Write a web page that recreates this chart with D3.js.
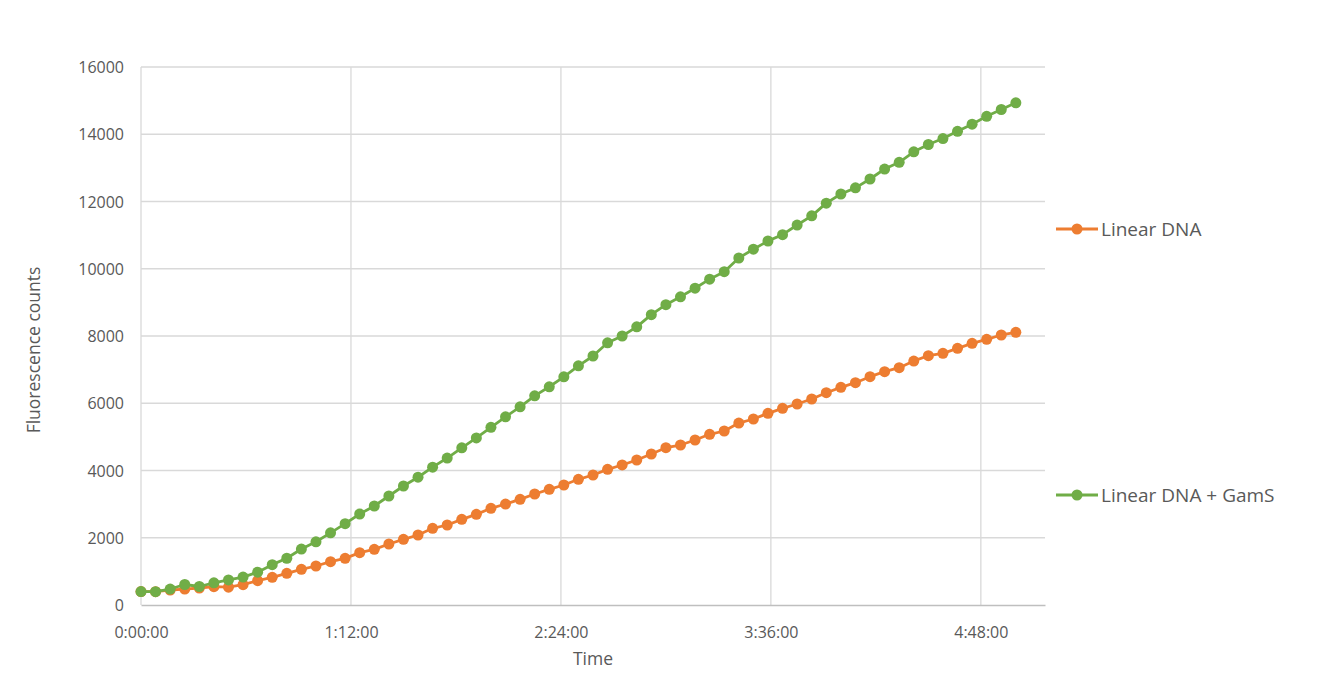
<!DOCTYPE html>
<html>
<head>
<meta charset="utf-8">
<script src="https://cdn.jsdelivr.net/npm/d3@7"></script>
<style>
  html, body { margin: 0; padding: 0; background: #fff; }
  svg text { font-family: "Open Sans", "Noto Sans", sans-serif; fill: #595959; }
</style>
</head>
<body>
<svg id="chart" width="1334" height="675"></svg>
<script>
// time in minutes since start
const timeMinutes = [0,5,10,15,20,25,30,35,40,45,50,55,60,65,70,75,80,85,90,95,100,105,110,115,120,125,130,135,140,145,150,155,160,165,170,175,180,185,190,195,200,205,210,215,220,225,230,235,240,245,250,255,260,265,270,275,280,285,290,295,300];

const linearDNA = [400,395,446,475,505,545,530,604,724,823,942,1061,1160,1289,1388,1556,1656,1814,1953,2082,2280,2379,2548,2696,2875,3003,3142,3301,3440,3569,3738,3866,4035,4164,4312,4491,4679,4758,4907,5076,5175,5410,5532,5700,5849,5978,6126,6314,6473,6612,6790,6939,7058,7256,7415,7484,7633,7782,7901,8030,8110];

const linearDNAGamS = [400,395,475,610,550,660,745,830,975,1200,1390,1665,1880,2145,2420,2706,2944,3242,3539,3800,4100,4370,4675,4970,5285,5595,5895,6220,6490,6785,7112,7405,7797,8000,8272,8635,8932,9165,9422,9690,9913,10320,10582,10825,11014,11300,11574,11950,12223,12406,12669,12966,13165,13477,13695,13873,14087,14300,14533,14736,14935];

const seriesNames = ["Linear DNA", "Linear DNA + GamS"];
const seriesColors = ["#ED7D31", "#70AD47"];
const xTickMinutes = [0, 72, 144, 216, 288];
const yTicks = [0, 2000, 4000, 6000, 8000, 10000, 12000, 14000, 16000];
const xTitle = "Time";
const yTitle = "Fluorescence counts";

const svg = d3.select("#chart");
const plot = { left: 141, right: 1045, top: 67, bottom: 605 };

const x = d3.scaleLinear().domain([0, 310]).range([plot.left, plot.right]);
const y = d3.scaleLinear().domain([0, 16000]).range([plot.bottom, plot.top]);

const fmtTime = m => {
  const h = Math.floor(m / 60), mm = m % 60;
  return `${h}:${String(mm).padStart(2, "0")}:00`;
};

// horizontal gridlines
svg.append("g").selectAll("line").data(yTicks.filter(d => d > 0)).join("line")
  .attr("x1", plot.left).attr("x2", plot.right)
  .attr("y1", d => y(d)).attr("y2", d => y(d))
  .attr("stroke", "#d9d9d9").attr("stroke-width", 1.3);

// vertical gridlines
svg.append("g").selectAll("line").data(xTickMinutes).join("line")
  .attr("x1", d => x(d)).attr("x2", d => x(d))
  .attr("y1", plot.top).attr("y2", plot.bottom)
  .attr("stroke", "#d9d9d9").attr("stroke-width", 1.3);

// y axis
const yAxis = svg.append("g").attr("transform", `translate(${plot.left - 17},0)`)
  .call(d3.axisLeft(y).tickValues(yTicks).tickSize(0).tickPadding(0).tickFormat(d3.format("d")));
yAxis.select(".domain").remove();
yAxis.selectAll("text").style("font-size", "16px").attr("fill", "#595959").attr("dy", "0.35em");

// x axis
const xAxis = svg.append("g").attr("transform", `translate(0,${plot.bottom})`)
  .call(d3.axisBottom(x).tickValues(xTickMinutes).tickSize(0).tickPadding(22).tickFormat(fmtTime));
xAxis.select(".domain").attr("stroke", "#bfbfbf").attr("stroke-width", 1.5);
xAxis.selectAll("text").style("font-size", "16px").attr("fill", "#595959");

// axis titles
svg.append("text").attr("x", 593).attr("y", 665).attr("text-anchor", "middle")
  .style("font-size", "17.5px").text(xTitle);
svg.append("text").attr("transform", "translate(40,350) rotate(-90)").attr("text-anchor", "middle")
  .style("font-size", "17.5px").text(yTitle);

// series
const allSeries = [linearDNA, linearDNAGamS];
const line = d3.line().x((d, i) => x(timeMinutes[i])).y(d => y(d));

allSeries.forEach((vals, si) => {
  const g = svg.append("g");
  g.append("path").datum(vals).attr("d", line)
    .attr("fill", "none").attr("stroke", seriesColors[si]).attr("stroke-width", 2.8)
    .attr("stroke-linejoin", "round");
  g.selectAll("circle").data(vals).join("circle")
    .attr("cx", (d, i) => x(timeMinutes[i])).attr("cy", d => y(d))
    .attr("r", 5.5).attr("fill", seriesColors[si]);
});

// legend
const legendY = [229, 495];
seriesNames.forEach((name, i) => {
  const g = svg.append("g").attr("transform", `translate(1056,${legendY[i]})`);
  g.append("line").attr("x1", 0).attr("x2", 42).attr("y1", 0).attr("y2", 0)
    .attr("stroke", seriesColors[i]).attr("stroke-width", 2.8);
  g.append("circle").attr("cx", 21).attr("cy", 0).attr("r", 5.5).attr("fill", seriesColors[i]);
  g.append("text").attr("x", 45).attr("y", 0).attr("dy", "0.35em")
    .style("font-size", "19px").text(name);
});
</script>
</body>
</html>
